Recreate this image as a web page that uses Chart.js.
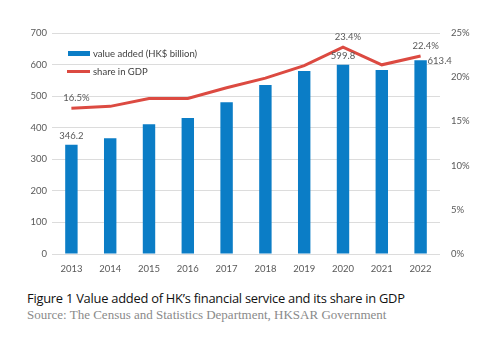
<!DOCTYPE html>
<html>
<head>
<meta charset="utf-8">
<script src="https://cdn.jsdelivr.net/npm/chart.js@4"></script>
<style>
  html, body { margin: 0; padding: 0; background: #fff; }
  .wrap { width: 477px; height: 340px; position: relative; }
  #chart { position: absolute; left: 0; top: 0; }
  .caption { position: absolute; left: 27px; top: 289px; font-family: "Open Sans", sans-serif; font-size: 12.9px; color: #111; letter-spacing: -0.25px; }
  .source { position: absolute; left: 27px; top: 307px; font-family: "Liberation Serif", serif; font-size: 13px; color: #8a8a8a; }
</style>
</head>
<body>
<div class="wrap">
  <canvas id="chart" width="477" height="282"></canvas>
  <div class="caption">Figure 1 Value added of HK’s financial service and its share in GDP</div>
  <div class="source">Source: The Census and Statistics Department, HKSAR Government</div>
</div>
<script>
const years = ['2013', '2014', '2015', '2016', '2017', '2018', '2019', '2020', '2021', '2022'];
const valueAdded = [346.2, 367, 411, 431, 481, 535, 580, 599.8, 583, 613.4];
const shareGDP = [16.5, 16.7, 17.6, 17.6, 18.8, 19.9, 21.3, 23.4, 21.4, 22.4];
const leftTicks = [0, 100, 200, 300, 400, 500, 600, 700];
const rightTicks = [0, 5, 10, 15, 20, 25];

// which points get a value label
const barLabelIdx = [0, 7, 9];
const lineLabelIdx = [0, 7, 9];

const BLUE = '#0b7dc6';
const RED = '#dc4a41';
const TEXT = '#595959';
const FONT = 'Lato, "Open Sans", sans-serif';

const labelPlugin = {
  id: 'valueLabels',
  afterDatasetsDraw(chart) {
    const ctx = chart.ctx;
    ctx.save();
    ctx.font = '9.5px ' + FONT;
    ctx.fillStyle = TEXT;
    ctx.textBaseline = 'bottom';
    const bars = chart.getDatasetMeta(1).data;
    barLabelIdx.forEach(i => {
      const b = bars[i];
      if (i === years.length - 1) {
        ctx.textAlign = 'left';
        ctx.fillText(valueAdded[i].toFixed(1), b.x + 7, b.y + 5);
      } else {
        ctx.textAlign = 'center';
        ctx.fillText(valueAdded[i].toFixed(1), b.x, b.y - 4);
      }
    });
    const pts = chart.getDatasetMeta(0).data;
    ctx.textAlign = 'center';
    lineLabelIdx.forEach(i => {
      const p = pts[i];
      ctx.fillText(shareGDP[i].toFixed(1) + '%', p.x + 5, p.y - 5);
    });
    ctx.restore();
  }
};

const legendPlugin = {
  id: 'innerLegend',
  afterDraw(chart) {
    const ctx = chart.ctx;
    ctx.save();
    ctx.fillStyle = BLUE;
    ctx.fillRect(68, 51, 22, 5);
    ctx.strokeStyle = RED;
    ctx.lineWidth = 3;
    ctx.beginPath();
    ctx.moveTo(67, 71.5);
    ctx.lineTo(90, 71.5);
    ctx.stroke();
    ctx.font = '9.5px ' + FONT;
    ctx.fillStyle = '#404040';
    ctx.textBaseline = 'middle';
    ctx.textAlign = 'left';
    ctx.fillText('value added (HK$ billion)', 93, 53.5);
    ctx.fillText('share in GDP', 93, 71.5);
    ctx.restore();
  }
};

new Chart(document.getElementById('chart'), {
  data: {
    labels: years,
    datasets: [
      {
        type: 'line',
        label: 'share in GDP',
        data: shareGDP,
        yAxisID: 'y1',
        borderColor: RED,
        borderWidth: 3,
        pointRadius: 0,
        tension: 0,
        order: 0
      },
      {
        type: 'bar',
        label: 'value added (HK$ billion)',
        data: valueAdded,
        yAxisID: 'y',
        backgroundColor: BLUE,
        barPercentage: 0.32,
        categoryPercentage: 1,
        order: 1
      }
    ]
  },
  options: {
    responsive: false,
    animation: false,
    layout: { padding: { top: 33, left: 0, right: 0, bottom: 0 } },
    plugins: {
      legend: { display: false },
      tooltip: { enabled: false }
    },
    scales: {
      x: {
        grid: { display: false },
        border: { display: false },
        ticks: { color: TEXT, font: { family: FONT, size: 9.5 }, padding: 1, maxRotation: 0 },
        afterFit(s) { s.height = 28; }
      },
      y: {
        position: 'left',
        min: 0,
        max: 700,
        afterBuildTicks(s) { s.ticks = leftTicks.map(v => ({ value: v })); },
        grid: { color: '#dcdcdc', lineWidth: 1, drawTicks: false },
        border: { display: false },
        ticks: { color: TEXT, font: { family: FONT, size: 9.5 }, padding: 5 },
        afterFit(s) { s.width = 52; }
      },
      y1: {
        position: 'right',
        min: 0,
        max: 25,
        afterBuildTicks(s) { s.ticks = rightTicks.map(v => ({ value: v })); },
        grid: { display: false },
        border: { display: false },
        ticks: { color: TEXT, font: { family: FONT, size: 9.5 }, padding: 3, callback: v => v + '%' },
        afterFit(s) { s.width = 37; }
      }
    }
  },
  plugins: [labelPlugin, legendPlugin]
});
</script>
</body>
</html>
